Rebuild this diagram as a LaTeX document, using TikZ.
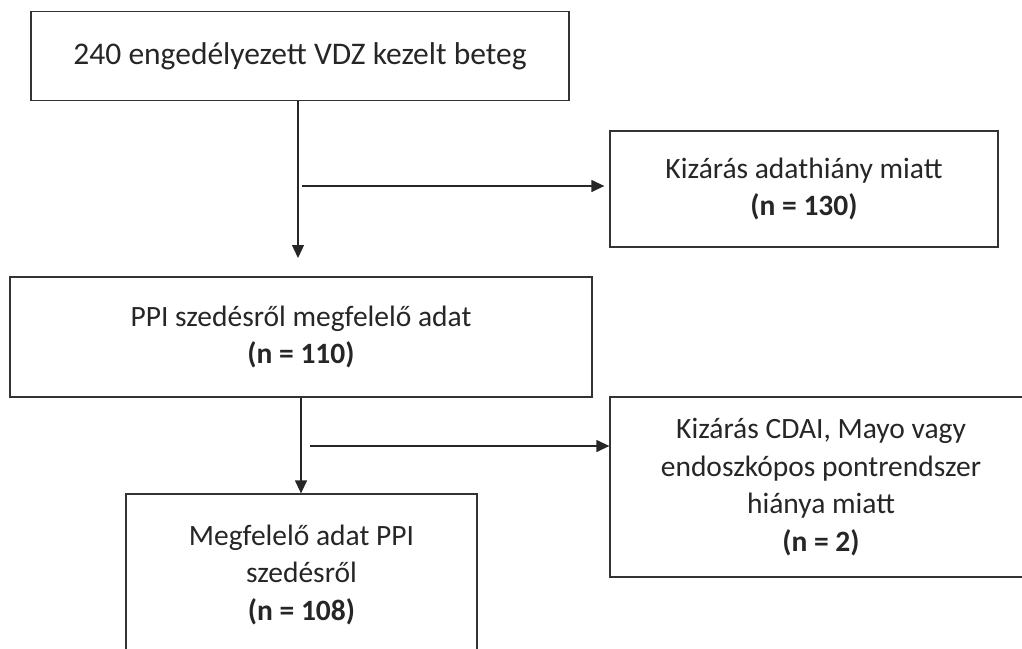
\documentclass[tikz,border=0pt]{standalone}
\usepackage{fontspec}
\setmainfont{Carlito}
\usepackage{tikz}
\usetikzlibrary{arrows.meta,positioning}
\usepackage{xcolor}

\begin{document}
\begin{tikzpicture}[
  x=1pt, y=-1pt,
  box/.style={draw=black!80, line width=1.3pt, align=center, text=black!85,
    inner sep=0pt, font=\fontsize{29.5}{37.5}\selectfont},
  flow/.style={draw=black!85, line width=1.3pt, -{Triangle[length=13pt,width=12pt]}}
]
\useasboundingbox (0,0) rectangle (1022,648);
\clip (0,0) rectangle (1022,648);

% Main flow
\node[box, minimum width=538pt, minimum height=89pt, font=\fontsize{31.5}{38}\selectfont]
  (start) at (300,56) {240 engedélyezett VDZ kezelt beteg};
\node[box, minimum width=582pt, minimum height=120pt] (ppi) at (301,337)
  {PPI szedésről megfelelő adat\\ \textbf{(n = 110)}};
\node[box, minimum width=351pt, minimum height=161pt] (final) at (301.5,574.5)
  {Megfelelő adat PPI\\ szedésről\\ \textbf{(n = 108)}};

% Exclusions
\node[box, minimum width=388pt, minimum height=116pt] (excl1) at (804,189)
  {Kizárás adathiány miatt\\ \textbf{(n = 130)}};
\node[box, minimum width=422pt, minimum height=180pt] (excl2) at (821,487)
  {Kizárás CDAI, Mayo vagy\\ endoszkópos pontrendszer\\ hiánya miatt\\ \textbf{(n = 2)}};

% Arrows
\coordinate (d1) at (298,258);
\draw[flow] (d1 |- start.south) -- (d1);
\coordinate (b1) at (302,186);
\draw[flow, shorten >=5pt] (b1) -- (b1 -| excl1.west);

\draw[flow] (ppi.south) -- (ppi.south |- final.north);
\coordinate (b2) at (310,446);
\draw[flow] (b2) -- (b2 -| excl2.west);

\end{tikzpicture}
\end{document}
